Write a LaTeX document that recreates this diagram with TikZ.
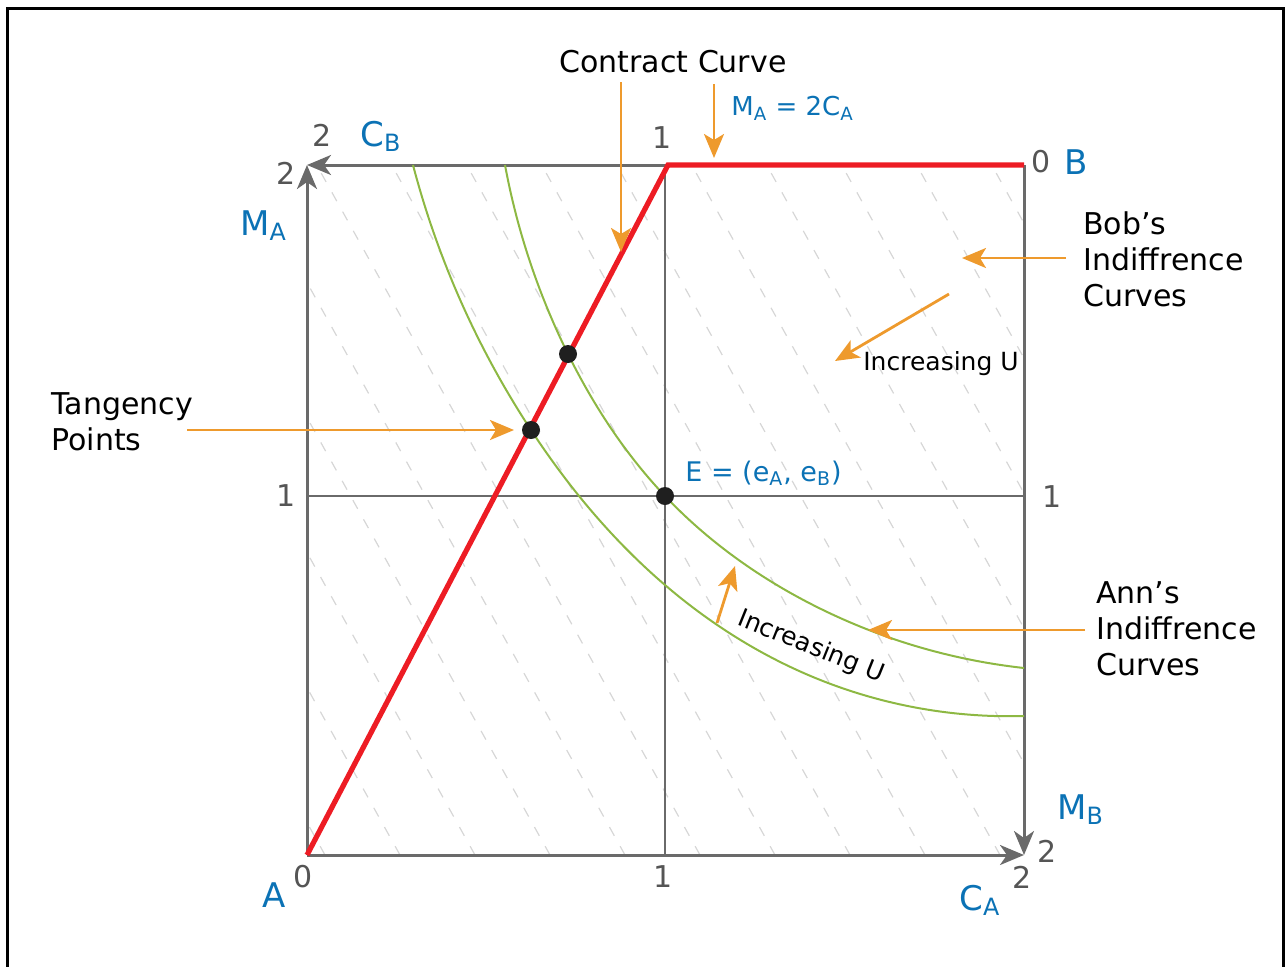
\documentclass[tikz,border=0pt]{standalone}
\usepackage{fontspec}
\setmainfont{DejaVu Sans}
\usetikzlibrary{arrows.meta,hobby}
\definecolor{axisgray}{HTML}{6A6A6A}
\definecolor{numgray}{HTML}{555555}
\definecolor{lblue}{HTML}{0B72B5}
\definecolor{corange}{HTML}{EE9A2D}
\definecolor{cgreen}{HTML}{8DB843}
\definecolor{cred}{HTML}{ED1C24}
\definecolor{dashgray}{HTML}{D6D6D6}
\begin{document}
\begin{tikzpicture}[x=0.5pt,y=-0.5pt,
 axis/.style={draw=axisgray,line width=1.5pt},
 axisarrow/.style={axis,-{Stealth[length=12pt,width=10pt,inset=3.5pt]}},
 midline/.style={draw=axisgray,line width=1.3pt},
 bobline/.style={draw=dashgray,line width=0.6pt,dash pattern=on 5pt off 6pt},
 annline/.style={draw=cgreen,line width=1pt},
 contract/.style={draw=cred,line width=2.6pt,line join=miter},
 pointer/.style={draw=corange,line width=1.4pt,-{Stealth[length=12pt,width=10pt,inset=3pt]}},
 dot/.style={circle,fill=black!88,inner sep=0pt,minimum size=9pt},
 num/.style={text=numgray,font=\fontsize{15}{18}\selectfont,inner sep=0pt},
 bigblue/.style={text=lblue,font=\fontsize{17}{20}\selectfont,inner sep=0pt},
 smallblue/.style={text=lblue,font=\fontsize{13}{16}\selectfont,inner sep=0pt},
 lab/.style={text=black,font=\fontsize{15}{18}\selectfont,inner sep=0pt,align=left},
 small/.style={text=black,font=\fontsize{12.5}{15}\selectfont,inner sep=0pt}
]
\useasboundingbox (0,0) rectangle (1286,966);
% outer frame
\draw[line width=1.5pt] (7,990) -- (7,8) -- (1283,8) -- (1283,990);

% corners
\coordinate (A) at (307,855);
\coordinate (TL) at (307,165);
\coordinate (TR) at (1024,165);
\coordinate (BR) at (1024,855);
\coordinate (K) at (668,165);

% Bob's linear indifference curves (dashed)
\begin{scope}
\clip (307,165) rectangle (1024,855);
\foreach \k in {0,...,14}{
  \pgfmathsetmacro\xb{325+75*\k}
  \draw[bobline] (\xb,855) -- ({\xb-383.3},165);
}
\end{scope}

% midlines
\coordinate (Mt) at (665,165);
\coordinate (Mb) at (665,855);
\coordinate (Ml) at (307,496);
\coordinate (Mr) at (1024,496);
\draw[midline] (Mt) -- (Mb);
\draw[midline] (Ml) -- (Mr);

% box axes
\draw[axisarrow] (A) -- (TL);
\draw[axisarrow] (TR) -- (TL);
\draw[axisarrow] (A) -- (BR);
\draw[axisarrow] (TR) -- (BR);

% Ann's indifference curves
\draw[annline,use Hobby shortcut] (413,165) .. (531,430) .. (665,585) .. (813,677) .. (1024,716);
\draw[annline,use Hobby shortcut] (505,165) .. (568,354) .. (665,496) .. (813,605) .. (1024,668);

% contract curve
\draw[contract] (A) -- (K) -- (TR);

% points
\node[dot] (T1) at (531,430) {};
\node[dot] (T2) at (568,354) {};
\node[dot] (E) at (665,496) {};

% labels
\node[lab,anchor=center] (cc) at (673,62) {Contract Curve};
\node[smallblue,anchor=base west] (mac) at (731,115) {M\textsubscript{A} = 2C\textsubscript{A}};
\node[num] (n1t) at (662,138) {1};
\node[num] (n2t) at (322,135) {2};
\node[bigblue,anchor=base west] (CB) at (360,146) {C\textsubscript{B}};
\node[num] (n2l) at (286,173) {2};
\node[bigblue,anchor=base west] (MA) at (240,235) {M\textsubscript{A}};
\node[num] (n0b) at (1041,162) {0};
\node[bigblue,anchor=base west] (B) at (1064,174) {B};
\node[lab,anchor=north west] (bob) at (1083,211) {Bob’s\\Indiffrence\\Curves};
\node[small] (incb) at (941,364) {Increasing U};
\node[lab,anchor=north west] (tang) at (51,392) {Tangency\\Points};
\node[smallblue,anchor=base west,font=\fontsize{13.5}{16}\selectfont] (Elab) at (685,481) {E = (e\textsubscript{A}, e\textsubscript{B})};
\node[num] (n1l) at (286,496) {1};
\node[num] (n1r) at (1052,497) {1};
\node[lab,anchor=north west] (ann) at (1096,581) {Ann’s\\Indiffrence\\Curves};
\node[small,rotate=-22] (inca) at (811,647) {Increasing U};
\node[bigblue,anchor=base west] (MB) at (1057,819) {M\textsubscript{B}};
\node[num] (n2r) at (1047,851) {2};
\node[num] (n2b) at (1022,877) {2};
\node[bigblue,anchor=base west] (CA) at (959,910) {C\textsubscript{A}};
\node[num] (n1b) at (663,877) {1};
\node[num] (n0a) at (303,877) {0};
\node[bigblue,anchor=base west] (Alab) at (262,907) {A};

% pointers
\coordinate (p1s) at (621,82);
\coordinate (p1e) at (621,252);
\draw[pointer] (p1s) -- (p1e);
\coordinate (p2s) at (714,84);
\coordinate (p2e) at (714,158);
\draw[pointer] (p2s) -- (p2e);
\coordinate (p3s) at (1066,258);
\coordinate (p3e) at (962,258);
\draw[pointer] (p3s) -- (p3e);
\coordinate (p4s) at (949,294);
\coordinate (p4e) at (835,361);
\draw[pointer] (p4s) -- (p4e);
\coordinate (p5s) at (187,430);
\coordinate (p5e) at (514,430);
\draw[pointer] (p5s) -- (p5e);
\coordinate (p6s) at (1085,630);
\coordinate (p6e) at (868,630);
\draw[pointer] (p6s) -- (p6e);
\coordinate (p7s) at (717,623);
\coordinate (p7e) at (735,566);
\draw[pointer] (p7s) -- (p7e);
\end{tikzpicture}
\end{document}
